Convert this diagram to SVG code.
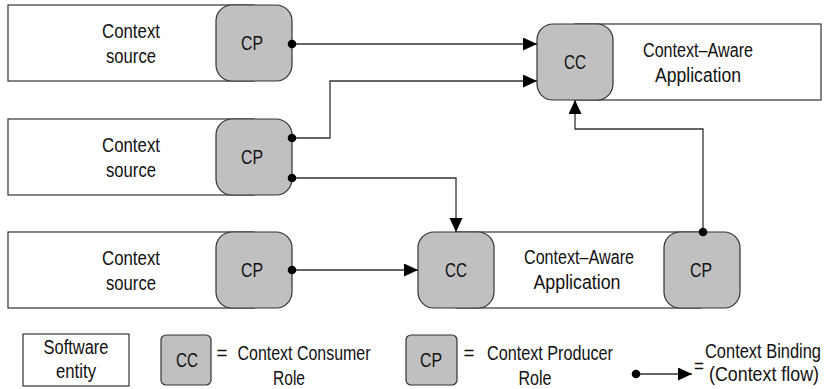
<svg xmlns="http://www.w3.org/2000/svg" width="838" height="389" viewBox="0 0 838 389">
<defs>
<style>
text{font-family:"Liberation Sans","Arial",sans-serif;font-size:20px;fill:#111;text-anchor:middle}
.ent{fill:#fff;stroke:#333;stroke-width:1.2}
.role{fill:#c0c0c0;stroke:#333;stroke-width:1.2}
.conn{fill:none;stroke:#333;stroke-width:1.3}
</style>
<marker id="arr" markerUnits="userSpaceOnUse" markerWidth="16" markerHeight="14" refX="14" refY="6.5" orient="auto"><path d="M0,0 L14,6.5 L0,13 z" fill="#000"/></marker>
<marker id="dot" markerUnits="userSpaceOnUse" markerWidth="10" markerHeight="10" refX="5" refY="5" orient="auto"><circle cx="5" cy="5" r="4.3" fill="#000"/></marker>
</defs>
<g id="src1"><rect class="ent" x="8" y="5" width="246" height="76"/><text x="131" y="38" textLength="58" lengthAdjust="spacingAndGlyphs">Context</text><text x="131" y="63" textLength="50" lengthAdjust="spacingAndGlyphs">source</text><rect class="role" x="216" y="5" width="76" height="76" rx="16"/><text x="252" y="50" textLength="22" lengthAdjust="spacingAndGlyphs">CP</text></g>
<g id="src2"><rect class="ent" x="8" y="119" width="246" height="76"/><text x="131" y="152" textLength="58" lengthAdjust="spacingAndGlyphs">Context</text><text x="131" y="177" textLength="50" lengthAdjust="spacingAndGlyphs">source</text><rect class="role" x="216" y="119" width="76" height="76" rx="16"/><text x="252" y="164" textLength="22" lengthAdjust="spacingAndGlyphs">CP</text></g>
<g id="src3"><rect class="ent" x="8" y="232" width="246" height="76"/><text x="131" y="265" textLength="58" lengthAdjust="spacingAndGlyphs">Context</text><text x="131" y="290" textLength="50" lengthAdjust="spacingAndGlyphs">source</text><rect class="role" x="216" y="232" width="76" height="76" rx="16"/><text x="252" y="277" textLength="22" lengthAdjust="spacingAndGlyphs">CP</text></g>
<g id="app1"><rect class="ent" x="575" y="24" width="246" height="76"/><text x="698" y="57" textLength="110" lengthAdjust="spacingAndGlyphs">Context–Aware</text><text x="698" y="82" textLength="86" lengthAdjust="spacingAndGlyphs">Application</text><rect class="role" x="537" y="24" width="76" height="76" rx="16"/><text x="575" y="69" textLength="22" lengthAdjust="spacingAndGlyphs">CC</text></g>
<g id="app2"><rect class="ent" x="456" y="232" width="245" height="76"/><text x="579" y="264" textLength="110" lengthAdjust="spacingAndGlyphs">Context–Aware</text><text x="577" y="289" textLength="87" lengthAdjust="spacingAndGlyphs">Application</text><rect class="role" x="418" y="232" width="76" height="76" rx="16"/><text x="456" y="277" textLength="22" lengthAdjust="spacingAndGlyphs">CC</text><rect class="role" x="664" y="232" width="76" height="76" rx="16"/><text x="701" y="277" textLength="22" lengthAdjust="spacingAndGlyphs">CP</text></g>
<g id="connectors">
<path class="conn" d="M292,44 H537" marker-start="url(#dot)" marker-end="url(#arr)"/>
<path class="conn" d="M292,138 H330 V81 H537" marker-start="url(#dot)" marker-end="url(#arr)"/>
<path class="conn" d="M292,178 H456 V232" marker-start="url(#dot)" marker-end="url(#arr)"/>
<path class="conn" d="M292,270 H418" marker-start="url(#dot)" marker-end="url(#arr)"/>
<path class="conn" d="M703,232 V129 H575 V100" marker-start="url(#dot)" marker-end="url(#arr)"/>
</g>
<g id="legend">
<rect class="ent" x="23" y="334" width="106" height="52"/><text x="76" y="354" textLength="65" lengthAdjust="spacingAndGlyphs">Software</text><text x="76" y="378" textLength="40" lengthAdjust="spacingAndGlyphs">entity</text>
<rect class="role" x="161" y="335" width="50" height="50" rx="5"/><text x="187" y="367" textLength="22" lengthAdjust="spacingAndGlyphs">CC</text>
<text x="222" y="360" textLength="11" lengthAdjust="spacingAndGlyphs">=</text><text x="304" y="360" textLength="133" lengthAdjust="spacingAndGlyphs">Context Consumer</text><text x="289" y="385" textLength="32" lengthAdjust="spacingAndGlyphs">Role</text>
<rect class="role" x="406" y="335" width="51" height="50" rx="5"/><text x="431" y="367" textLength="22" lengthAdjust="spacingAndGlyphs">CP</text>
<text x="469" y="360" textLength="11" lengthAdjust="spacingAndGlyphs">=</text><text x="550" y="360" textLength="126" lengthAdjust="spacingAndGlyphs">Context Producer</text><text x="535" y="385" textLength="33" lengthAdjust="spacingAndGlyphs">Role</text>
<path class="conn" d="M636,374 H692" marker-start="url(#dot)" marker-end="url(#arr)"/>
<text x="699" y="373" textLength="10" lengthAdjust="spacingAndGlyphs">=</text><text x="763" y="358" textLength="116" lengthAdjust="spacingAndGlyphs">Context Binding</text><text x="764" y="381" textLength="110" lengthAdjust="spacingAndGlyphs">(Context flow)</text>
</g>
</svg>
